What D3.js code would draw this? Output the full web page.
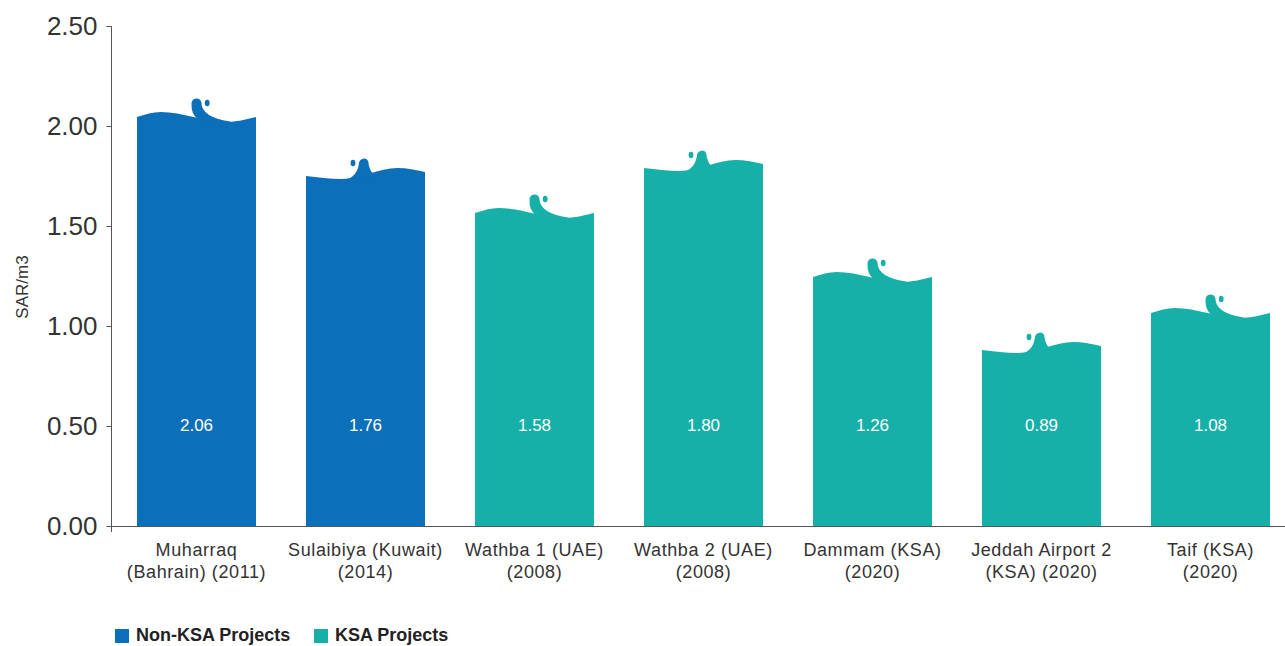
<!DOCTYPE html>
<html>
<head>
<meta charset="utf-8">
<script src="https://cdn.jsdelivr.net/npm/d3@7"></script>
<style>
  body { margin: 0; background: #fff; }
  svg { display: block; font-family: "Liberation Sans", Arial, sans-serif; }
  .axis path, .axis line { stroke: #555; }
  .axis text { fill: #333; font-size: 26px; }
</style>
</head>
<body>
<div class="container"></div>
<script>
const projects = ["Muharraq", "Sulaibiya", "Wathba 1", "Wathba 2", "Dammam", "Jeddah Airport 2", "Taif"];
const labelLine1 = ["Muharraq", "Sulaibiya (Kuwait)", "Wathba 1 (UAE)", "Wathba 2 (UAE)", "Dammam (KSA)", "Jeddah Airport 2", "Taif (KSA)"];
const labelLine2 = ["(Bahrain) (2011)", "(2014)", "(2008)", "(2008)", "(2020)", "(KSA) (2020)", "(2020)"];
const costs = [2.06, 1.76, 1.58, 1.80, 1.26, 0.89, 1.08];
const groups = ["Non-KSA", "Non-KSA", "KSA", "KSA", "KSA", "KSA", "KSA"];
const yTicks = [0, 0.5, 1, 1.5, 2, 2.5];
const legendItems = ["Non-KSA Projects", "KSA Projects"];

const width = 1285;
const height = 646;
const colors = { "Non-KSA": "#0b6fba", "KSA": "#16b0a9" };
const legendColor = { "Non-KSA Projects": colors["Non-KSA"], "KSA Projects": colors["KSA"] };

const svg = d3.select(".container")
  .append("svg")
  .attr("width", width)
  .attr("height", height);

const yScale = d3.scaleLinear().domain([0, 2.5]).range([526, 26]);
const xScale = d3.scaleBand()
  .domain(projects)
  .range([112, 1295])
  .paddingInner(0.296)
  .paddingOuter(0.148);

// wave tops: two alternating shapes (fraction of bar width, px offset from value)
const waveA = [[0, 3], [0.2, -2], [0.75, 8], [1, 3]];
const waveB = [[0, 2], [0.3, 5], [0.77, -6], [1, -2]];
const waveType = i => (i === 1 || i === 3 || i === 5) ? "B" : "A";

const waveLine = d3.line().curve(d3.curveMonotoneX);

const bars = svg.append("g").attr("class", "bars");

projects.forEach((p, i) => {
  const x0 = xScale(p);
  const w = xScale.bandwidth();
  const top = yScale(costs[i]);
  const base = yScale(0);
  const pts = (waveType(i) === "A" ? waveA : waveB).map(d => [x0 + d[0] * w, top + d[1]]);
  const wave = waveLine(pts);
  const color = colors[groups[i]];
  const g = bars.append("g");

  g.append("path")
    .attr("d", `M${x0},${base}L${wave.slice(1)}L${x0 + w},${base}Z`)
    .attr("fill", color);

  if (waveType(i) === "A") {
    // curl leaning left, tail running down into the trough
    const r = 5;
    const hx = x0 + 0.5 * w, hy = top - 10;
    const mx = x0 + 0.78 * w, my = top + 8;
    g.append("path")
      .attr("d", `M${hx - r},${hy}A${r},${r} 0 0 1 ${hx + r},${hy - 1}` +
        `Q${hx + 5},${hy + 13} ${mx},${my - 0.5}L${mx},${my + 1.5}` +
        `Q${hx - 6},${hy + 24} ${hx - r},${hy}Z`)
      .attr("fill", color);
    g.append("ellipse")
      .attr("cx", x0 + 0.59 * w).attr("cy", top - 11)
      .attr("rx", 2.4).attr("ry", 3.2)
      .attr("fill", color);
  } else {
    // curl rising from the trough toward the crest
    const r = 5;
    const hx = x0 + 0.48 * w, hy = top - 13;
    const lx = x0 + 0.33 * w, rx = x0 + 0.58 * w;
    g.append("path")
      .attr("d", `M${hx + r},${hy}A${r},${r} 0 0 0 ${hx - r + 1},${hy + 1}` +
        `Q${hx - 5},${hy + 15} ${lx},${top + 6}L${rx},${top + 2}` +
        `Q${hx + 6},${hy + 10} ${hx + r},${hy}Z`)
      .attr("fill", color);
    g.append("ellipse")
      .attr("cx", x0 + 0.395 * w).attr("cy", top - 11)
      .attr("rx", 2.4).attr("ry", 3.2)
      .attr("fill", color);
  }

  g.append("text")
    .attr("x", x0 + w / 2)
    .attr("y", 431)
    .attr("text-anchor", "middle")
    .attr("fill", "#fff")
    .attr("font-size", 17)
    .text(costs[i].toFixed(2));
});

// axes
svg.append("g")
  .attr("class", "axis")
  .attr("transform", "translate(111.5,0)")
  .call(d3.axisLeft(yScale).tickValues(yTicks).tickFormat(d3.format(".2f")).tickSize(5).tickPadding(9))
  .call(g => g.select(".domain").attr("d", "M-5,26.5H0V532"));

svg.append("line")
  .attr("x1", 107).attr("x2", width)
  .attr("y1", 526.5).attr("y2", 526.5)
  .attr("stroke", "#555");

svg.append("text")
  .attr("transform", "translate(28,287) rotate(-90)")
  .attr("text-anchor", "middle")
  .attr("fill", "#333")
  .attr("font-size", 17)
  .text("SAR/m3");

// category labels
const cats = svg.append("g")
  .attr("fill", "#333")
  .attr("font-size", 18)
  .attr("letter-spacing", 0.6)
  .attr("text-anchor", "middle");

projects.forEach((p, i) => {
  const cx = xScale(p) + xScale.bandwidth() / 2;
  cats.append("text").attr("x", cx).attr("y", 556).text(labelLine1[i]);
  cats.append("text").attr("x", cx).attr("y", 578).text(labelLine2[i]);
});

// legend
const legendX = [115, 314];
const legend = svg.append("g");
legendItems.forEach((name, i) => {
  legend.append("rect")
    .attr("x", legendX[i]).attr("y", 629)
    .attr("width", 14).attr("height", 14)
    .attr("fill", legendColor[name]);
  legend.append("text")
    .attr("x", legendX[i] + 21).attr("y", 641)
    .attr("font-size", 18)
    .attr("font-weight", "bold")
    .attr("fill", "#222")
    .text(name);
});
</script>
</body>
</html>
